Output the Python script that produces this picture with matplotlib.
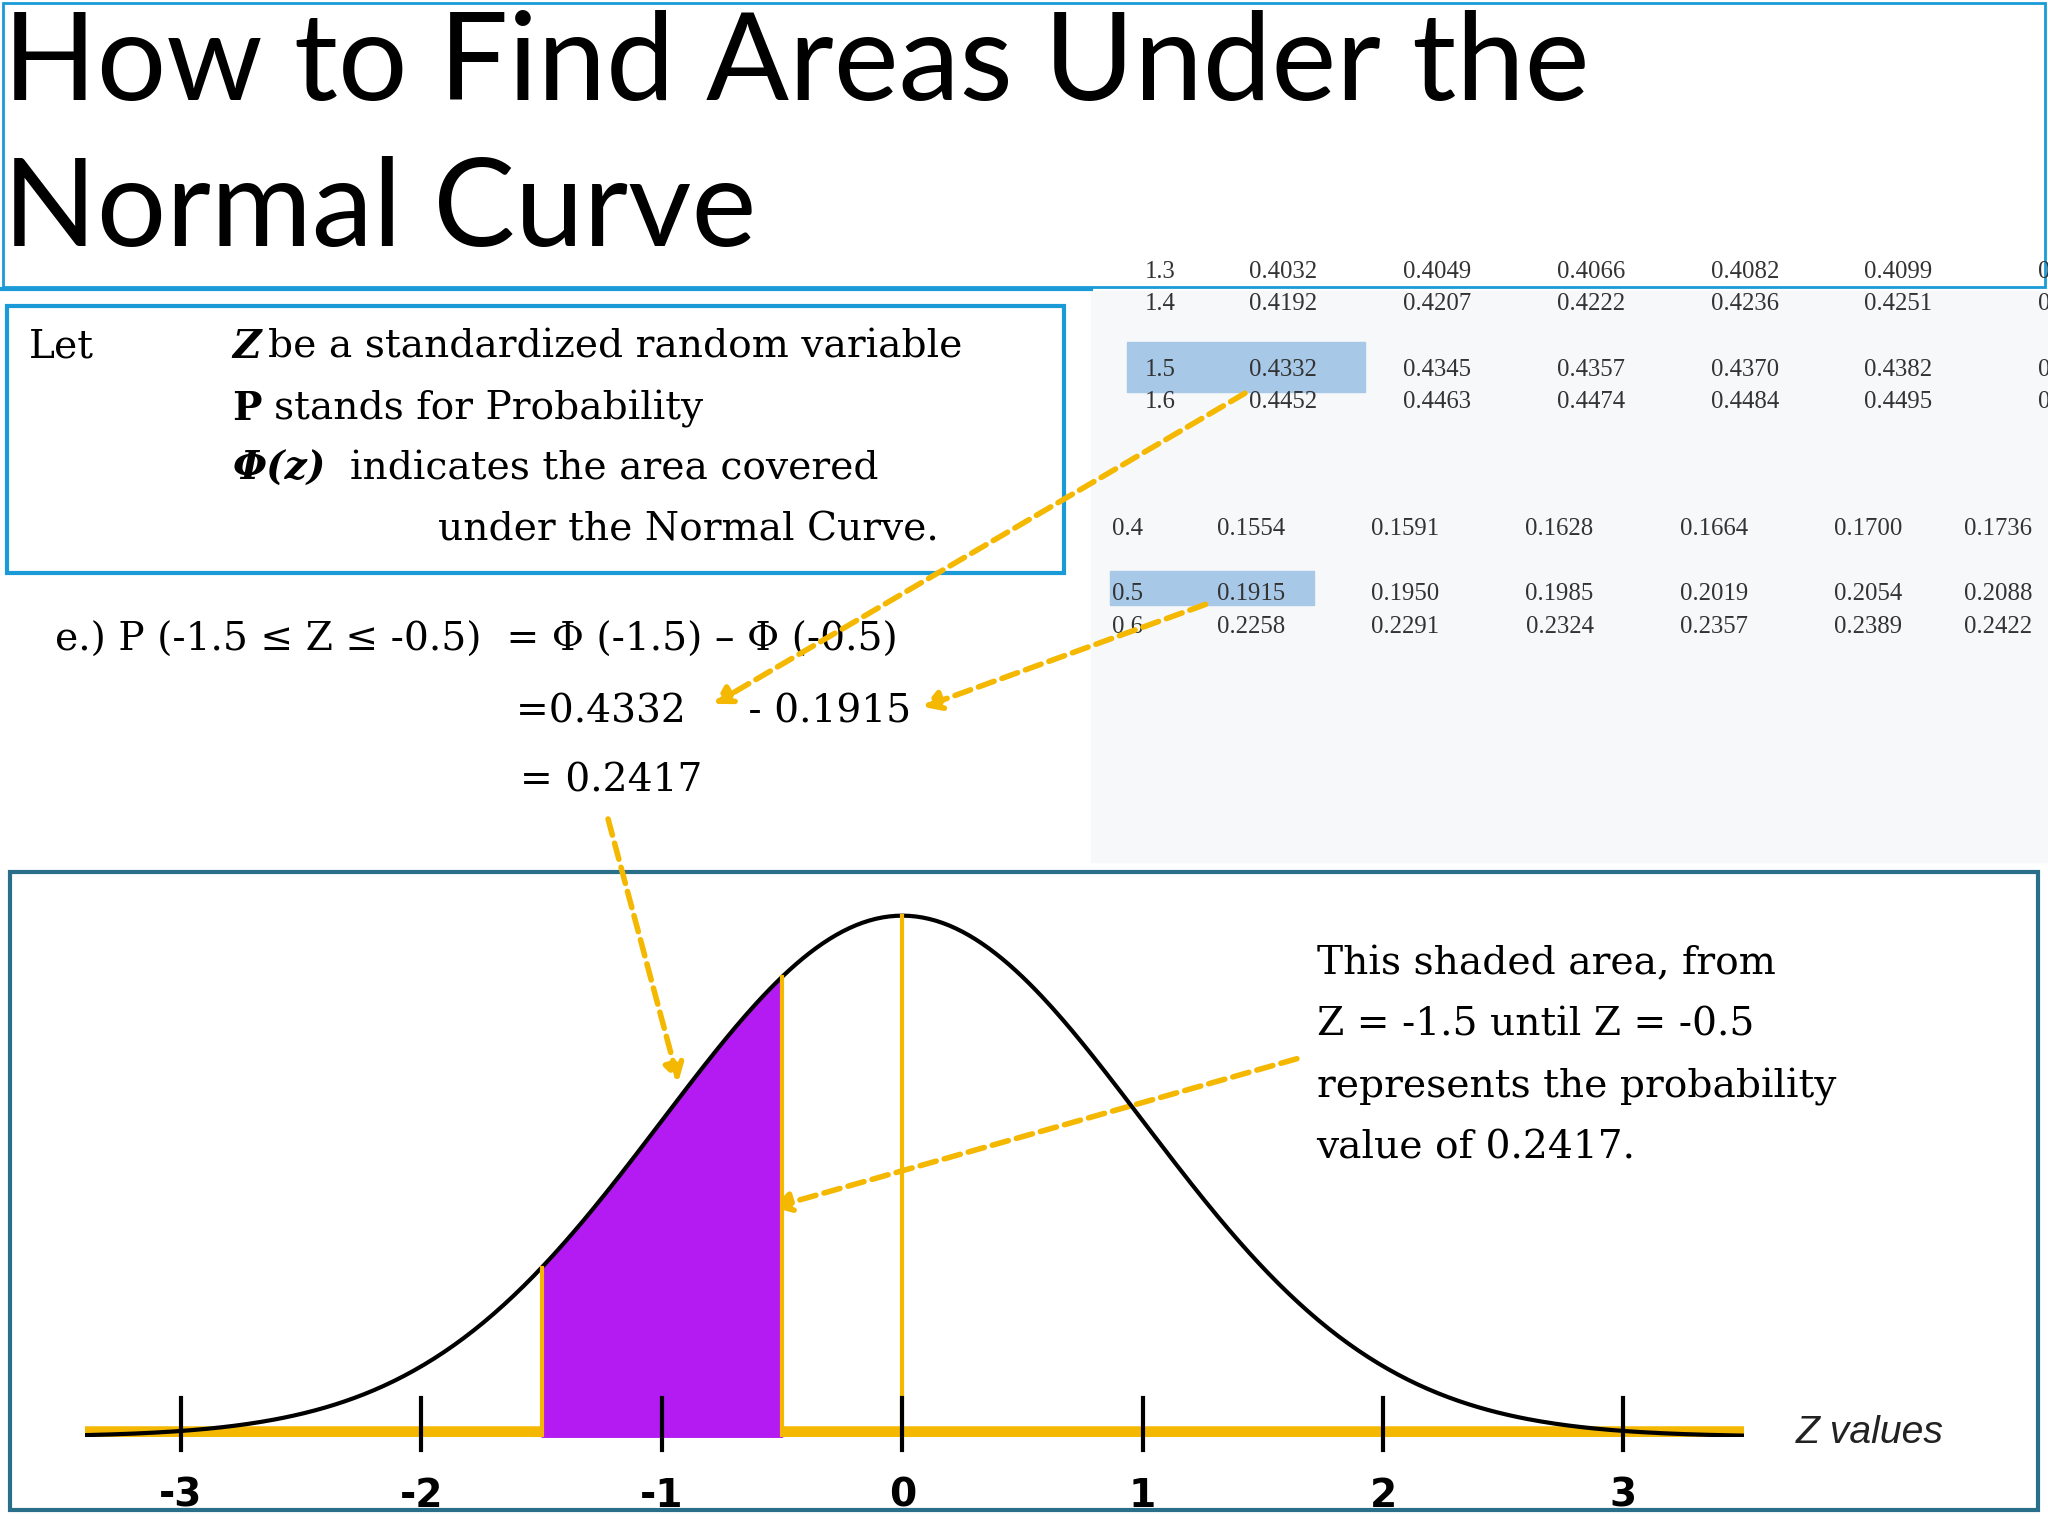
import numpy as np
import matplotlib
matplotlib.use("Agg")
import matplotlib.pyplot as plt
from matplotlib.patches import Rectangle

# ---- data ----
t1_rows = ["1.3", "1.4", "1.5", "1.6"]
t1_vals = [["0.4032", "0.4049", "0.4066", "0.4082", "0.4099", "0.4115"],
           ["0.4192", "0.4207", "0.4222", "0.4236", "0.4251", "0.4265"],
           ["0.4332", "0.4345", "0.4357", "0.4370", "0.4382", "0.4394"],
           ["0.4452", "0.4463", "0.4474", "0.4484", "0.4495", "0.4505"]]
t2_rows = ["0.4", "0.5", "0.6"]
t2_vals = [["0.1554", "0.1591", "0.1628", "0.1664", "0.1700", "0.1736"],
           ["0.1915", "0.1950", "0.1985", "0.2019", "0.2054", "0.2088"],
           ["0.2258", "0.2291", "0.2324", "0.2357", "0.2389", "0.2422"]]
z_ticks = [-3, -2, -1, 0, 1, 2, 3]
z_low, z_high = -1.5, -0.5

S = 1536 / 1176
def fs(px):
    return px * S / 1.389

YEL = "#f5b800"
BLUE = "#1a9ad6"
PURP = "#b31bf2"
serif = "Liberation Serif"
body = "DejaVu Serif"

fig = plt.figure(figsize=(20.48, 15.36), dpi=100)
ax = fig.add_axes([0, 0, 1, 1])
ax.set_xlim(0, 1568); ax.set_ylim(1176, 0); ax.axis("off")

# background panel
ax.add_patch(Rectangle((835, 223), 733, 437, color="#f7f8fa", zorder=0))

# title
ax.add_patch(Rectangle((2, 2), 1564, 218, fill=False, ec=BLUE, lw=2, clip_on=False))
ax.plot([0, 835], [221, 221], color=BLUE, lw=3)
ax.text(2, 50, "How to Find Areas Under the", fontsize=fs(94), family="Lato", va="center")
ax.text(2, 162, "Normal Curve", fontsize=fs(94), family="Lato", va="center")

# table 1
c1 = [888, 982, 1100, 1218, 1336, 1453, 1560]
r1 = [208, 233, 283, 308]
ax.add_patch(Rectangle((863, 262), 182, 38, color="#a8c8e8", zorder=1))
ax.add_patch(Rectangle((850, 437), 156, 26, color="#a8c8e8", zorder=1))
for i, r in enumerate(t1_rows):
    ax.text(c1[0], r1[i], r, fontsize=fs(19), family=serif, ha="center", va="center", color="#333")
    for j, v in enumerate(t1_vals[i]):
        ax.text(c1[j + 1], r1[i], v, fontsize=fs(19), family=serif, ha="left" if j == 5 else "center",
                va="center", color="#333", clip_on=True)
c2 = [863, 958, 1076, 1194, 1312, 1430, 1530]
r2 = [405, 455, 480]
for i, r in enumerate(t2_rows):
    ax.text(c2[0], r2[i], r, fontsize=fs(19), family=serif, ha="center", va="center", color="#333")
    for j, v in enumerate(t2_vals[i]):
        ax.text(c2[j + 1], r2[i], v, fontsize=fs(19), family=serif, ha="center", va="center",
                color="#333", clip_on=True)

# definition box
ax.add_patch(Rectangle((5, 234), 810, 205, fill=False, ec=BLUE, lw=3))
F = fs(30)
ax.text(22, 266, "Let", fontsize=F, family=body, va="center")
ax.text(178, 266, "Z", fontsize=F, family=body, va="center", weight="bold", style="italic")
ax.text(205, 266, "be a standardized random variable", fontsize=F, family=body, va="center")
ax.text(178, 313, "P", fontsize=F, family=body, va="center", weight="bold")
ax.text(210, 313, "stands for Probability", fontsize=F, family=body, va="center")
ax.text(178, 359, "Φ(z)", fontsize=F, family=body, va="center", weight="bold", style="italic")
ax.text(268, 359, "indicates the area covered", fontsize=F, family=body, va="center")
ax.text(335, 406, "under the Normal Curve.", fontsize=F, family=body, va="center")

# equations
ax.text(42, 490, "e.) P (-1.5 ≤ Z ≤ -0.5)  = Φ (-1.5) – Φ (-0.5)", fontsize=F, family=body, va="center")
ax.text(395, 545, "=0.4332     - 0.1915", fontsize=F, family=body, va="center")
ax.text(398, 598, "= 0.2417", fontsize=F, family=body, va="center")

arr = dict(arrowstyle="-|>,head_width=0.6,head_length=1", color=YEL, lw=4, linestyle=(0, (3, 1.5)))
ax.annotate("", xy=(545, 540), xytext=(955, 300), arrowprops=arr)
ax.annotate("", xy=(705, 542), xytext=(925, 462), arrowprops=arr)
ax.annotate("", xy=(520, 830), xytext=(465, 625), arrowprops=arr)
ax.annotate("", xy=(590, 925), xytext=(995, 810), arrowprops=arr, zorder=10)

# bottom panel
ax.add_patch(Rectangle((8, 668), 1552, 488, fill=False, ec="#2a6f8a", lw=3))
for k, line in enumerate(["This shaded area, from", "Z = -1.5 until Z = -0.5",
                          "represents the probability", "value of 0.2417."]):
    ax.text(1008, 738 + 47 * k, line, fontsize=F, family=body, va="center")
ax.text(1375, 1097, "Z values", fontsize=fs(30), family="Liberation Sans", style="italic", va="center", color="#222")

# curve axes
W, H = 1568, 1176
ax2 = fig.add_axes([65 / W, 1 - 1100 / H, (1335 - 65) / W, (1100 - 690) / H])
ax2.set_xlim(-3.4, 3.5); ax2.set_ylim(0, 0.41)
ax2.axis("off")
z = np.linspace(-3.4, 3.5, 500)
pdf = np.exp(-z ** 2 / 2) / np.sqrt(2 * np.pi)
ax2.plot(z, pdf, color="black", lw=3, zorder=3)
zs = np.linspace(z_low, z_high, 100)
ax2.fill_between(zs, 0, np.exp(-zs ** 2 / 2) / np.sqrt(2 * np.pi), color=PURP, zorder=2)
ax2.axhline(0.004, color=YEL, lw=9, zorder=1)
for v in (z_low, z_high, 0):
    ax2.plot([v, v], [0, np.exp(-v ** 2 / 2) / np.sqrt(2 * np.pi)], color=YEL, lw=3, zorder=4)
for t in z_ticks:
    ax2.plot([t, t], [-0.01, 0.03], color="black", lw=3, zorder=5, clip_on=False)
    ax2.text(t, -0.045, str(t), fontsize=fs(30), weight="bold", family="DejaVu Sans",
             ha="center", va="center", clip_on=False)

fig.savefig("out.png", dpi=100)
